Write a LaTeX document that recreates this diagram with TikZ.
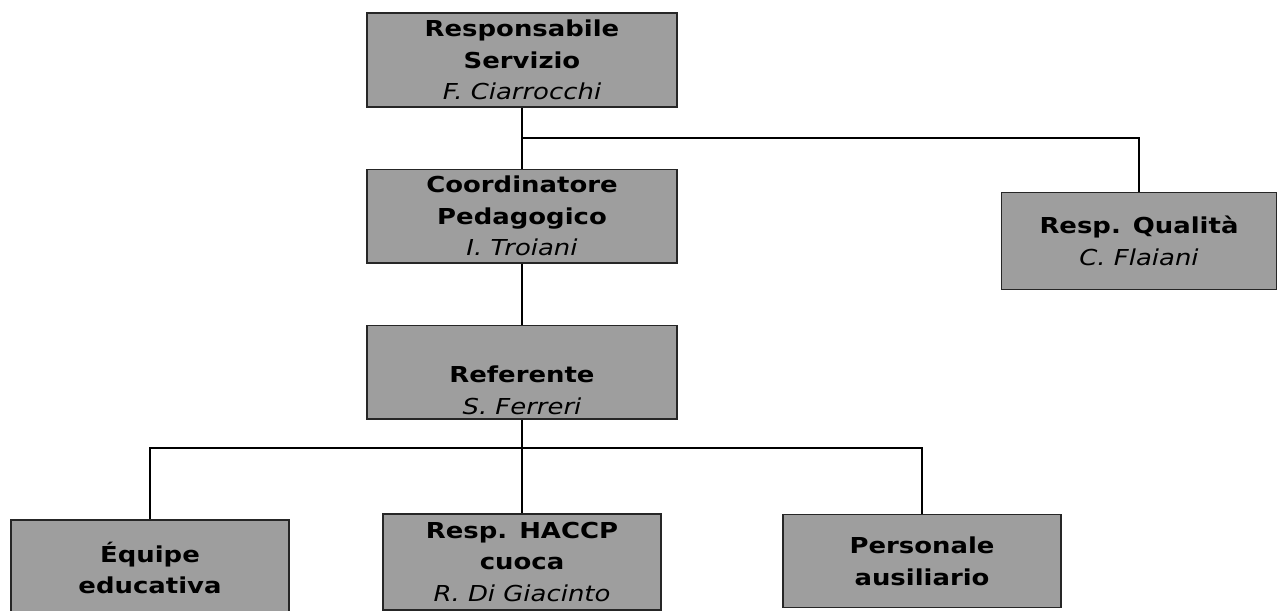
\documentclass[tikz,border=0pt]{standalone}
\usepackage{fontspec}
\setmainfont{DejaVu Sans}[FakeStretch=1.18]
\usetikzlibrary{positioning}

\begin{document}
\begin{tikzpicture}[
        x=0.02cm, y=-0.02cm,
        roleBox/.style={
            draw=black!85,
            line width=0.9pt,
            fill=black!38,
            minimum width=6.2cm,
            minimum height=1.87cm,
            align=center,
            inner sep=3pt,
            font=\fontsize{12.5}{18}\selectfont\bfseries
        },
        teamBox/.style={
            roleBox,
            minimum width=5.55cm,
            minimum height=1.92cm
        },
        link/.style={
            draw=black,
            line width=1.2pt
        }
    ]

        \useasboundingbox (0,0) rectangle (1278,611);

        % Main chain
        \node[roleBox] (headService) at (522,60) {
            Responsabile\\
            Servizio\\
            {\itshape\mdseries F. Ciarrocchi}
        };

        \node[
            roleBox,
            below=1.22cm of headService
        ] (pedCoord) {
            Coordinatore\\
            Pedagogico\\
            {\itshape\mdseries I. Troiani}
        };

        \node[
            roleBox,
            inner sep=1pt,
            below=1.22cm of pedCoord
        ] (referent) {
            \rule{0pt}{30pt}Referente\\
            {\itshape\mdseries S. Ferreri}
        };

        % Side staff
        \node[
            roleBox,
            minimum width=5.5cm,
            minimum height=1.94cm
        ] (quality) at (1139,241) {
            Resp. Qualità\\
            {\itshape\mdseries C. Flaiani}
        };

        % Bottom row
        \node[teamBox] (educators) at (150,568) {
            Équipe\\
            educativa
        };

        \node[teamBox] (haccp) at (522,562) {
            Resp. HACCP\\
            cuoca\\
            {\itshape\mdseries R. Di Giacinto}
        };

        \node[
            teamBox,
            minimum height=1.86cm
        ] (auxiliary) at (922,561) {
            Personale\\
            ausiliario
        };

        % Connectors
        \coordinate (upperJoin) at (522,138);
        \coordinate (lowerJoin) at (522,448);

        \draw[link] (headService.south) -- (pedCoord.north);
        \draw[link] (upperJoin) -| (quality.north);
        \draw[link] (pedCoord.south) -- (referent.north);
        \draw[link] (referent.south) -- (haccp.north);
        \draw[link] (educators.north) |- (lowerJoin) -| (auxiliary.north);

    \end{tikzpicture}
\end{document}
